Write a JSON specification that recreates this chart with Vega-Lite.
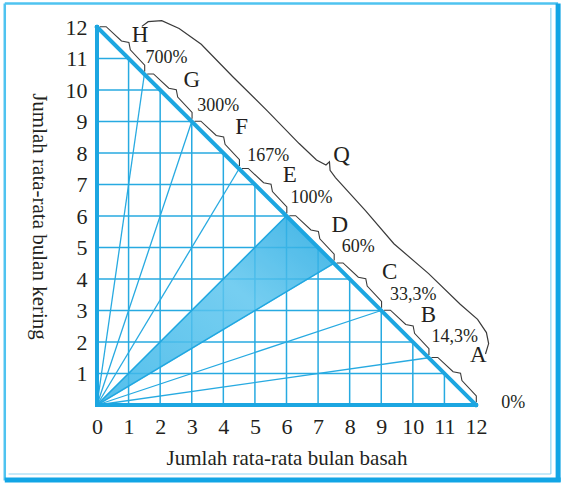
{
  "$schema": "https://vega.github.io/schema/vega-lite/v6.json",
  "width": 379,
  "height": 378,
  "autosize": {"type": "none"},
  "padding": {"left": 97, "top": 27, "right": 88, "bottom": 80},
  "background": "white",
  "config": {
    "view": {"stroke": null},
    "font": "Liberation Serif"
  },
  "datasets": {
    "vgrid": [
      {"x": 1, "y": 0, "y2": 11}, {"x": 2, "y": 0, "y2": 10}, {"x": 3, "y": 0, "y2": 9}, {"x": 4, "y": 0, "y2": 8},
      {"x": 5, "y": 0, "y2": 7}, {"x": 6, "y": 0, "y2": 6}, {"x": 7, "y": 0, "y2": 5}, {"x": 8, "y": 0, "y2": 4},
      {"x": 9, "y": 0, "y2": 3}, {"x": 10, "y": 0, "y2": 2}, {"x": 11, "y": 0, "y2": 1}
    ],
    "hgrid": [
      {"y": 1, "x": 0, "x2": 11}, {"y": 2, "x": 0, "x2": 10}, {"y": 3, "x": 0, "x2": 9}, {"y": 4, "x": 0, "x2": 8},
      {"y": 5, "x": 0, "x2": 7}, {"y": 6, "x": 0, "x2": 6}, {"y": 7, "x": 0, "x2": 5}, {"y": 8, "x": 0, "x2": 4},
      {"y": 9, "x": 0, "x2": 3}, {"y": 10, "x": 0, "x2": 2}, {"y": 11, "x": 0, "x2": 1}
    ],
    "rays": [
      {"pct": "14,3%", "x": 0, "y": 0, "x2": 10.5, "y2": 1.5},
      {"pct": "33,3%", "x": 0, "y": 0, "x2": 9, "y2": 3},
      {"pct": "60%", "x": 0, "y": 0, "x2": 7.5, "y2": 4.5},
      {"pct": "100%", "x": 0, "y": 0, "x2": 6, "y2": 6},
      {"pct": "167%", "x": 0, "y": 0, "x2": 4.5, "y2": 7.5},
      {"pct": "300%", "x": 0, "y": 0, "x2": 3, "y2": 9},
      {"pct": "700%", "x": 0, "y": 0, "x2": 1.5, "y2": 10.5}
    ],
    "shade": [
      {"x": 0, "y": 0, "y2": 0},
      {"x": 6, "y": 3.6, "y2": 6},
      {"x": 7.5, "y": 4.5, "y2": 4.5}
    ],
    "edges": [
      {"x": 0, "y": 0, "x2": 12, "y2": 0},
      {"x": 0, "y": 0, "x2": 0, "y2": 12},
      {"x": 0, "y": 12, "x2": 12, "y2": 0}
    ],
    "frame": [
      {"part": "top", "x": -2.92, "y": 12.75, "x2": 14.6, "y2": 12.75},
      {"part": "left", "x": -2.92, "y": 12.75, "x2": -2.92, "y2": -2.4}
    ],
    "frame2": [
      {"part": "right", "x": 14.6, "y": 12.75, "x2": 14.6, "y2": -2.44},
      {"part": "bottom", "x": -2.92, "y": -2.38, "x2": 14.68, "y2": -2.38}
    ],
    "frame3": [
      {"part": "inner right", "x": 14.37, "y": 12.6, "x2": 14.37, "y2": -2.19},
      {"part": "inner bottom", "x": -2.8, "y": -2.19, "x2": 14.37, "y2": -2.19}
    ],
    "braces": [
      {"seg": "H", "o": 1, "x": 0.09, "y": 12.01}, {"seg": "H", "o": 2, "x": 0.29, "y": 12.01}, {"seg": "H", "o": 3, "x": 0.775, "y": 11.555}, {"seg": "H", "o": 4, "x": 1.01, "y": 11.51}, {"seg": "H", "o": 5, "x": 1.055, "y": 11.275}, {"seg": "H", "o": 6, "x": 1.51, "y": 10.79}, {"seg": "H", "o": 7, "x": 1.51, "y": 10.59},
      {"seg": "G", "o": 1, "x": 1.59, "y": 10.51}, {"seg": "G", "o": 2, "x": 1.79, "y": 10.51}, {"seg": "G", "o": 3, "x": 2.275, "y": 10.055}, {"seg": "G", "o": 4, "x": 2.51, "y": 10.01}, {"seg": "G", "o": 5, "x": 2.555, "y": 9.775}, {"seg": "G", "o": 6, "x": 3.01, "y": 9.29}, {"seg": "G", "o": 7, "x": 3.01, "y": 9.09},
      {"seg": "F", "o": 1, "x": 3.09, "y": 9.01}, {"seg": "F", "o": 2, "x": 3.29, "y": 9.01}, {"seg": "F", "o": 3, "x": 3.775, "y": 8.555}, {"seg": "F", "o": 4, "x": 4.01, "y": 8.51}, {"seg": "F", "o": 5, "x": 4.055, "y": 8.275}, {"seg": "F", "o": 6, "x": 4.51, "y": 7.79}, {"seg": "F", "o": 7, "x": 4.51, "y": 7.59},
      {"seg": "E", "o": 1, "x": 4.59, "y": 7.51}, {"seg": "E", "o": 2, "x": 4.79, "y": 7.51}, {"seg": "E", "o": 3, "x": 5.275, "y": 7.055}, {"seg": "E", "o": 4, "x": 5.51, "y": 7.01}, {"seg": "E", "o": 5, "x": 5.555, "y": 6.775}, {"seg": "E", "o": 6, "x": 6.01, "y": 6.29}, {"seg": "E", "o": 7, "x": 6.01, "y": 6.09},
      {"seg": "D", "o": 1, "x": 6.09, "y": 6.01}, {"seg": "D", "o": 2, "x": 6.29, "y": 6.01}, {"seg": "D", "o": 3, "x": 6.775, "y": 5.555}, {"seg": "D", "o": 4, "x": 7.01, "y": 5.51}, {"seg": "D", "o": 5, "x": 7.055, "y": 5.275}, {"seg": "D", "o": 6, "x": 7.51, "y": 4.79}, {"seg": "D", "o": 7, "x": 7.51, "y": 4.59},
      {"seg": "C", "o": 1, "x": 7.59, "y": 4.51}, {"seg": "C", "o": 2, "x": 7.79, "y": 4.51}, {"seg": "C", "o": 3, "x": 8.275, "y": 4.055}, {"seg": "C", "o": 4, "x": 8.51, "y": 4.01}, {"seg": "C", "o": 5, "x": 8.555, "y": 3.775}, {"seg": "C", "o": 6, "x": 9.01, "y": 3.29}, {"seg": "C", "o": 7, "x": 9.01, "y": 3.09},
      {"seg": "B", "o": 1, "x": 9.09, "y": 3.01}, {"seg": "B", "o": 2, "x": 9.29, "y": 3.01}, {"seg": "B", "o": 3, "x": 9.775, "y": 2.555}, {"seg": "B", "o": 4, "x": 10.01, "y": 2.51}, {"seg": "B", "o": 5, "x": 10.055, "y": 2.275}, {"seg": "B", "o": 6, "x": 10.51, "y": 1.79}, {"seg": "B", "o": 7, "x": 10.51, "y": 1.59},
      {"seg": "A", "o": 1, "x": 10.59, "y": 1.51}, {"seg": "A", "o": 2, "x": 10.79, "y": 1.51}, {"seg": "A", "o": 3, "x": 11.275, "y": 1.055}, {"seg": "A", "o": 4, "x": 11.51, "y": 1.01}, {"seg": "A", "o": 5, "x": 11.555, "y": 0.775}, {"seg": "A", "o": 6, "x": 12.01, "y": 0.29}, {"seg": "A", "o": 7, "x": 12.01, "y": 0.09}
    ],
    "qbrace": [
      {"o": 1, "x": 1.42, "y": 12.02}, {"o": 2, "x": 1.62, "y": 12.17}, {"o": 3, "x": 2.05, "y": 12.2},
      {"o": 4, "x": 2.6, "y": 11.95}, {"o": 5, "x": 3.3, "y": 11.45}, {"o": 6, "x": 4.3, "y": 10.42},
      {"o": 7, "x": 5.4, "y": 9.33}, {"o": 8, "x": 6.4, "y": 8.3}, {"o": 9, "x": 6.95, "y": 7.78},
      {"o": 10, "x": 7.25, "y": 7.62}, {"o": 11, "x": 7.36, "y": 7.72}, {"o": 12, "x": 7.38, "y": 7.45},
      {"o": 13, "x": 7.55, "y": 7.22}, {"o": 14, "x": 8.5, "y": 6.17}, {"o": 15, "x": 9.4, "y": 5.12},
      {"o": 16, "x": 10.5, "y": 4.17}, {"o": 17, "x": 11.5, "y": 3.2}, {"o": 18, "x": 12.05, "y": 2.72},
      {"o": 19, "x": 12.33, "y": 2.3}, {"o": 20, "x": 12.4, "y": 1.95}, {"o": 21, "x": 12.3, "y": 1.62}
    ],
    "letters": [
      {"t": "H", "x": 1.36, "y": 11.75}, {"t": "G", "x": 3.0, "y": 10.32},
      {"t": "F", "x": 4.58, "y": 8.84}, {"t": "E", "x": 6.1, "y": 7.3},
      {"t": "D", "x": 7.69, "y": 5.71}, {"t": "C", "x": 9.27, "y": 4.23},
      {"t": "B", "x": 10.49, "y": 2.86}, {"t": "A", "x": 12.07, "y": 1.59},
      {"t": "Q", "x": 7.74, "y": 7.94}
    ],
    "pcts": [
      {"t": "700%", "x": 2.2, "y": 11.01}, {"t": "300%", "x": 3.84, "y": 9.49},
      {"t": "167%", "x": 5.42, "y": 7.9}, {"t": "100%", "x": 6.79, "y": 6.56},
      {"t": "60%", "x": 8.27, "y": 5.03}, {"t": "33,3%", "x": 10.01, "y": 3.49},
      {"t": "14,3%", "x": 11.33, "y": 2.17}, {"t": "0%", "x": 13.18, "y": 0.07}
    ]
  },
  "encoding": {
    "x": {
      "field": "x", "type": "quantitative",
      "scale": {"domain": [0, 12], "nice": false, "zero": false},
      "axis": {
        "values": [0, 1, 2, 3, 4, 5, 6, 7, 8, 9, 10, 11, 12],
        "domain": false, "ticks": false, "grid": false,
        "labelFont": "Liberation Serif", "labelFontSize": 22, "labelColor": "#231f20",
        "labelOverlap": false, "labelFlush": false, "labelBound": false,
        "labelPadding": 11,
        "title": "Jumlah rata-rata bulan basah",
        "titleFont": "Liberation Serif", "titleFontSize": 21, "titleFontWeight": "normal",
        "titleColor": "#231f20", "titlePadding": 10
      }
    },
    "y": {
      "field": "y", "type": "quantitative",
      "scale": {"domain": [0, 12], "nice": false, "zero": false},
      "axis": {
        "values": [1, 2, 3, 4, 5, 6, 7, 8, 9, 10, 11, 12],
        "domain": false, "ticks": false, "grid": false,
        "labelFont": "Liberation Serif", "labelFontSize": 22, "labelColor": "#231f20",
        "labelOverlap": false, "labelFlush": false, "labelBound": false,
        "labelPadding": 10,
        "title": "Jumlah rata-rata bulan kering",
        "titleFont": "Liberation Serif", "titleFontSize": 21, "titleFontWeight": "normal",
        "titleColor": "#231f20", "titleAngle": 90, "titlePadding": 37
      }
    }
  },
  "layer": [
    {
      "data": {"name": "frame"},
      "mark": {"type": "rule", "stroke": "#4fc3f0", "strokeWidth": 2.5},
      "encoding": {"x2": {"field": "x2"}, "y2": {"field": "y2"}}
    },
    {
      "data": {"name": "frame2"},
      "mark": {"type": "rule", "stroke": "#12a5e5", "strokeWidth": 5},
      "encoding": {"x2": {"field": "x2"}, "y2": {"field": "y2"}}
    },
    {
      "data": {"name": "frame3"},
      "mark": {"type": "rule", "stroke": "#8fd6f3", "strokeWidth": 1.2},
      "encoding": {"x2": {"field": "x2"}, "y2": {"field": "y2"}}
    },
    {
      "data": {"name": "vgrid"},
      "mark": {"type": "rule", "stroke": "#27aae1", "strokeWidth": 1.5},
      "encoding": {"y2": {"field": "y2"}}
    },
    {
      "data": {"name": "hgrid"},
      "mark": {"type": "rule", "stroke": "#27aae1", "strokeWidth": 1.5},
      "encoding": {"x2": {"field": "x2"}}
    },
    {
      "data": {"name": "rays"},
      "mark": {"type": "rule", "stroke": "#27aae1", "strokeWidth": 1.3},
      "encoding": {"x2": {"field": "x2"}, "y2": {"field": "y2"}}
    },
    {
      "data": {"name": "shade"},
      "mark": {
        "type": "area",
        "opacity": 0.85,
        "fill": {"gradient": "linear", "x1": 0, "y1": 1, "x2": 1, "y2": 0, "stops": [{"offset": 0, "color": "#36b4e8"}, {"offset": 0.6, "color": "#5ec6ef"}, {"offset": 1, "color": "#1fa7e1"}]},
        "stroke": "#1fa7e1",
        "strokeWidth": 1.5
      },
      "encoding": {"y2": {"field": "y2"}}
    },
    {
      "data": {"name": "edges"},
      "mark": {"type": "rule", "stroke": "#1ca6e1", "strokeWidth": 4, "strokeCap": "square"},
      "encoding": {"x2": {"field": "x2"}, "y2": {"field": "y2"}}
    },
    {
      "data": {"name": "braces"},
      "mark": {"type": "line", "stroke": "#3a3a3a", "strokeWidth": 1.1},
      "encoding": {
        "detail": {"field": "seg", "type": "nominal"},
        "order": {"field": "o", "type": "quantitative"}
      }
    },
    {
      "data": {"name": "qbrace"},
      "mark": {"type": "line", "stroke": "#3a3a3a", "strokeWidth": 1.2},
      "encoding": {"order": {"field": "o", "type": "quantitative"}}
    },
    {
      "data": {"name": "letters"},
      "mark": {"type": "text", "font": "Liberation Serif", "fontSize": 23, "color": "#231f20", "align": "center", "baseline": "middle"},
      "encoding": {"text": {"field": "t", "type": "nominal"}}
    },
    {
      "data": {"name": "pcts"},
      "mark": {"type": "text", "font": "Liberation Serif", "fontSize": 18, "color": "#231f20", "align": "center", "baseline": "middle"},
      "encoding": {"text": {"field": "t", "type": "nominal"}}
    }
  ]
}
